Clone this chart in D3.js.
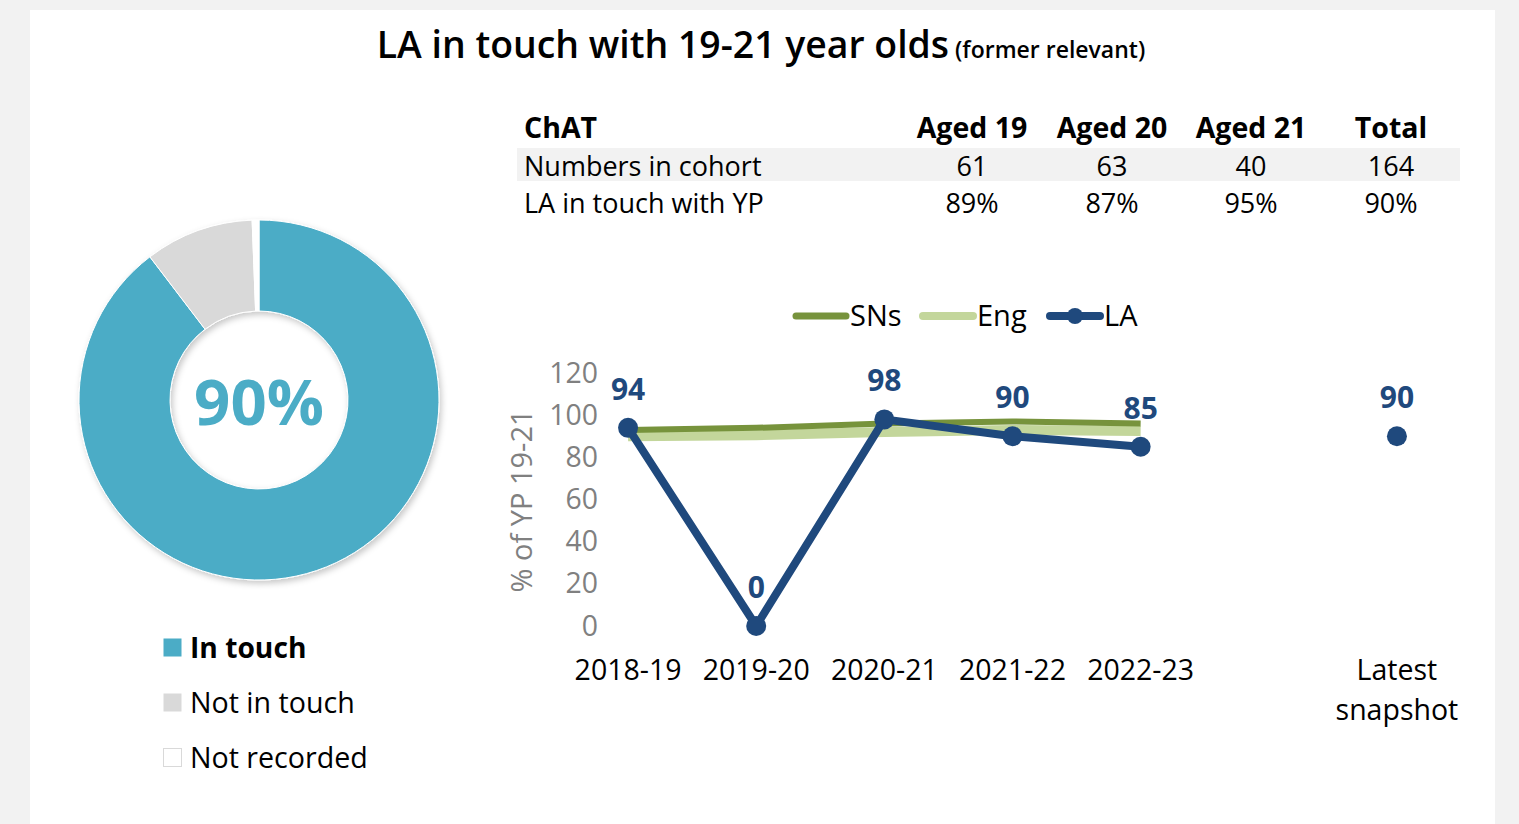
<!DOCTYPE html>
<html>
<head>
<meta charset="utf-8">
<script src="https://cdn.jsdelivr.net/npm/d3@7"></script>
<style>
  html, body { margin: 0; padding: 0; background: #f2f2f2; }
  svg { display: block; }
  text { font-family: "Open Sans", "Noto Sans", sans-serif; }
</style>
</head>
<body>
<svg id="chart" width="1519" height="824"></svg>
<script>
// Cohort table
const tableHeaders = ["ChAT", "Aged 19", "Aged 20", "Aged 21", "Total"];
const cohortNumbers = ["Numbers in cohort", "61", "63", "40", "164"];
const inTouchRates = ["LA in touch with YP", "89%", "87%", "95%", "90%"];

// Donut: status of the 164 young people
const statusLabels = ["In touch", "Not in touch", "Not recorded"];
const statusCounts = [147, 16, 1];
const statusColors = ["#4bacc6", "#d9d9d9", "#ffffff"];
const headlineRate = "90%";

// Trend chart
const years = ["2018-19", "2019-20", "2020-21", "2021-22", "2022-23", "", "Latest snapshot"];
const snsValues = [93, 94, 96, 97, 96, null, null];
const engValues = [90, 90.5, 92, 93, 92.5, null, null];
const laValues = [94, 0, 98, 90, 85, null, 90];
const yTicks = [0, 20, 40, 60, 80, 100, 120];

const svg = d3.select("#chart");

// White panel
svg.append("rect").attr("x", 30).attr("y", 10).attr("width", 1465).attr("height", 830).attr("fill", "#ffffff");

// Title
const title = svg.append("text").attr("x", 761).attr("y", 58).attr("text-anchor", "middle")
  .attr("font-weight", "600").attr("fill", "#000");
title.append("tspan").attr("font-size", 37.4).text("LA in touch with 19-21 year olds");
title.append("tspan").attr("font-size", 23).text(" (former relevant)");

// ---- Table ----
const colX = [524, 972, 1112, 1251, 1391];
svg.append("rect").attr("x", 517).attr("y", 148).attr("width", 943).attr("height", 33).attr("fill", "#f2f2f2");
function tableRow(cells, y, bold) {
  cells.forEach((c, i) => {
    svg.append("text").attr("x", colX[i]).attr("y", y)
      .attr("text-anchor", i === 0 ? "start" : "middle")
      .attr("font-size", bold ? 28.5 : 27).attr("font-weight", bold ? "700" : "400")
      .attr("fill", "#000").text(c);
  });
}
tableRow(tableHeaders, 138, true);
tableRow(cohortNumbers, 175.5, false);
tableRow(inTouchRates, 212.5, false);

// ---- Donut ----
const defs = svg.append("defs");
const shadow = defs.append("filter").attr("id", "shadow").attr("x", "-20%").attr("y", "-20%").attr("width", "140%").attr("height", "140%");
shadow.append("feDropShadow").attr("dx", 2).attr("dy", 3).attr("stdDeviation", 3).attr("flood-color", "#000").attr("flood-opacity", 0.22);

const pie = d3.pie().sort(null).value(d => d)
  .startAngle(0).endAngle(2 * Math.PI);
const arc = d3.arc().innerRadius(89).outerRadius(180);
const donut = svg.append("g").attr("transform", "translate(259,400)");
const donutRing = donut.append("g").attr("filter", "url(#shadow)");
donutRing.selectAll("path").data(pie(statusCounts)).join("path")
  .attr("d", arc)
  .attr("fill", (d, i) => statusColors[i])
  .attr("stroke", "#ffffff").attr("stroke-width", 1);
donut.append("text").attr("x", 0).attr("y", 25).attr("text-anchor", "middle")
  .attr("font-size", 63.5).attr("font-weight", "700").attr("fill", "#4bacc6").text(headlineRate);

// Donut legend
const legend = svg.append("g");
statusLabels.forEach((lab, i) => {
  const y = 648 + i * 55;
  legend.append("rect").attr("x", 163.5).attr("y", y - 9.5).attr("width", 18).attr("height", 18)
    .attr("fill", statusColors[i])
    .attr("stroke", i === 2 ? "#d9d9d9" : "none").attr("stroke-width", 1);
  legend.append("text").attr("x", 190).attr("y", y + 10).attr("font-size", i === 0 ? 28.2 : 28.6)
    .attr("font-weight", i === 0 ? "700" : "400").attr("fill", "#000").text(lab);
});

// ---- Line chart ----
const x = d3.scaleBand().domain(years).range([564, 1461]).padding(0);
const cx = d => x(d) + x.bandwidth() / 2;
const y = d3.scaleLinear().domain([0, 120]).range([626, 373]);

// y axis labels (no axis line)
const yAxis = svg.append("g").attr("transform", "translate(598,0)")
  .call(d3.axisLeft(y).tickValues(yTicks).tickSize(0).tickPadding(0));
yAxis.select(".domain").remove();
yAxis.selectAll("text").attr("font-size", 28.4).attr("fill", "#808080")
  .attr("font-family", "'Open Sans', 'Noto Sans', sans-serif");

svg.append("text").attr("transform", "translate(532,501) rotate(-90)")
  .attr("text-anchor", "middle").attr("font-size", 29).attr("fill", "#808080")
  .text("% of YP 19-21");

// x axis labels
const xAxis = svg.append("g").attr("transform", "translate(0,648)")
  .call(d3.axisBottom(x).tickSize(0).tickPadding(0).tickFormat(() => ""));
xAxis.select(".domain").remove();
years.forEach(yr => {
  if (!yr) return;
  const words = yr === "Latest snapshot" ? ["Latest", "snapshot"] : [yr];
  const t = svg.append("text").attr("x", cx(yr)).attr("y", 680).attr("text-anchor", "middle")
    .attr("font-size", 28.5).attr("fill", "#000");
  words.forEach((w, i) => t.append("tspan").attr("x", cx(yr)).attr("dy", i === 0 ? 0 : 40).text(w));
});

const line = d3.line().defined(d => d.v != null).x(d => cx(d.k)).y(d => y(d.v));
const pts = vals => years.map((k, i) => ({ k, v: vals[i] }));

svg.append("path").datum(pts(engValues)).attr("d", line).attr("fill", "none")
  .attr("stroke", "#c3d69b").attr("stroke-width", 10);
svg.append("path").datum(pts(snsValues)).attr("d", line).attr("fill", "none")
  .attr("stroke", "#77933c").attr("stroke-width", 6);
svg.append("path").datum(pts(laValues)).attr("d", line).attr("fill", "none")
  .attr("stroke", "#1f497d").attr("stroke-width", 8).attr("stroke-linejoin", "round");

const laPts = pts(laValues).filter(d => d.v != null);
svg.selectAll(".la-dot").data(laPts).join("circle").attr("class", "la-dot")
  .attr("cx", d => cx(d.k)).attr("cy", d => y(d.v)).attr("r", 10).attr("fill", "#1f497d");
svg.selectAll(".la-lab").data(laPts).join("text").attr("class", "la-lab")
  .attr("x", d => cx(d.k)).attr("y", d => y(d.v) - 28).attr("text-anchor", "middle")
  .attr("font-size", 30).attr("font-weight", "700").attr("fill", "#1f497d")
  .text(d => d.v);

// Series legend
const seriesLegend = [
  { name: "SNs", color: "#77933c", w: 7, dot: false, x: 793 },
  { name: "Eng", color: "#c3d69b", w: 8, dot: false, x: 920 },
  { name: "LA", color: "#1f497d", w: 8, dot: true, x: 1047 }
];
seriesLegend.forEach(s => {
  svg.append("line").attr("x1", s.x + 3).attr("x2", s.x + 53).attr("y1", 316).attr("y2", 316)
    .attr("stroke", s.color).attr("stroke-width", s.w).attr("stroke-linecap", "round");
  if (s.dot) svg.append("circle").attr("cx", s.x + 28).attr("cy", 316).attr("r", 8).attr("fill", s.color);
  svg.append("text").attr("x", s.x + 57).attr("y", 326).attr("font-size", 29).attr("fill", "#000").text(s.name);
});
</script>
</body>
</html>
